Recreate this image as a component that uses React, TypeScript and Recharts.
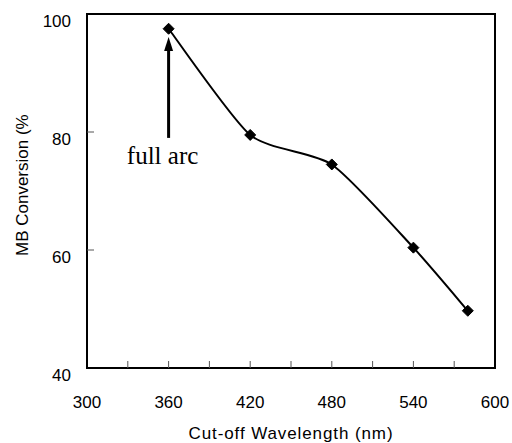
import React from 'react';
import { LineChart, Line, XAxis, YAxis, ReferenceArea, ReferenceLine } from 'recharts';

const wavelengths = [360, 420, 480, 540, 580];
const conversion = [97.5, 79.5, 74.5, 60.4, 49.7];
const xTicks = [300, 330, 360, 390, 420, 450, 480, 510, 540, 570, 600];
const xLabeled = [300, 360, 420, 480, 540, 600];
const yTicks = [40, 60, 80, 100];
const annotation = { x: 360, yFrom: 79, yTo: 96.1, text: 'full arc' };

const data = wavelengths.map((w, i) => ({ w, v: conversion[i] }));

const SANS = '"Liberation Sans", Arial, sans-serif';

// Excel-like smoothed curve (low-tension Catmull-Rom as cubic Bezier)
const K = 0.11;
const smoothCurve: any = (context: any) => {
  let pts: number[][] = [];
  return {
    areaStart() {},
    areaEnd() {},
    lineStart() {
      pts = [];
    },
    point(x: number, y: number) {
      pts.push([+x, +y]);
    },
    lineEnd() {
      if (!pts.length) return;
      context.moveTo(pts[0][0], pts[0][1]);
      for (let i = 0; i < pts.length - 1; i++) {
        const p0 = pts[i - 1] || pts[i];
        const p1 = pts[i];
        const p2 = pts[i + 1];
        const p3 = pts[i + 2] || p2;
        const c1x = p1[0] + (p2[0] - p0[0]) * K;
        const c1y = p1[1] + (p2[1] - p0[1]) * K;
        const c2x = p2[0] - (p3[0] - p1[0]) * K;
        const c2y = p2[1] - (p3[1] - p1[1]) * K;
        context.bezierCurveTo(c1x, c1y, c2x, c2y, p2[0], p2[1]);
      }
    },
  };
};

const XTick = (props: any) => {
  const { x, y, payload } = props;
  const v = payload.value;
  const showLine = v !== 300 && v !== 600;
  return (
    <g>
      {showLine && <line x1={x} x2={x} y1={y} y2={y - 7} stroke="#555" strokeWidth={1} />}
      {xLabeled.includes(v) && (
        <text x={x} y={y + 40} textAnchor="middle" fontSize={17} fontFamily={SANS} fill="#000">
          {v}
        </text>
      )}
    </g>
  );
};

const YTick = (props: any) => {
  const { x, y, payload } = props;
  const v = payload.value;
  const showLine = v !== 40 && v !== 100;
  return (
    <g>
      {showLine && <line x1={x} x2={x + 7} y1={y} y2={y} stroke="#555" strokeWidth={1} />}
      <text x={x - 16} y={y + 13} textAnchor="end" fontSize={17} fontFamily={SANS} fill="#000">
        {v}
      </text>
    </g>
  );
};

const Diamond = (props: any) => {
  const { cx, cy } = props;
  if (cx == null || cy == null) return null;
  const r = 5.5;
  return (
    <polygon
      points={`${cx},${cy - r} ${cx + r},${cy} ${cx},${cy + r} ${cx - r},${cy}`}
      fill="#000"
      stroke="#000"
    />
  );
};

const ArrowShape = (props: any) => {
  const { x1, y1, x2, y2 } = props;
  const top = Math.min(y1, y2);
  const bottom = Math.max(y1, y2);
  const x = x1;
  const headLen = 14;
  const headHalf = 4.5;
  return (
    <g>
      <line x1={x} x2={x} y1={bottom} y2={top + headLen - 1} stroke="#000" strokeWidth={3} />
      <polygon
        points={`${x},${top} ${x + headHalf},${top + headLen} ${x - headHalf},${top + headLen}`}
        fill="#000"
      />
      <text
        x={x - 6}
        y={bottom + 26}
        textAnchor="middle"
        fontSize={25}
        fontFamily='"Liberation Serif", "Times New Roman", serif'
        fill="#000"
      >
        {annotation.text}
      </text>
    </g>
  );
};

export default function App() {
  return (
    <div style={{ position: 'absolute', left: 0, top: 0, width: 512, height: 443, background: '#fff' }}>
      <LineChart width={512} height={443} data={data} margin={{ top: 14, right: 17, left: 0, bottom: 0 }}>
        <XAxis
          dataKey="w"
          type="number"
          domain={[300, 600]}
          ticks={xTicks}
          interval={0}
          height={75}
          axisLine={false}
          tickLine={false}
          tickSize={0}
          tickMargin={0}
          tick={<XTick />}
          label={{
            value: 'Cut-off Wavelength (nm)',
            position: 'insideBottom',
            offset: 4,
            style: { fontSize: 17, fontFamily: SANS, fill: '#000', letterSpacing: 0.9 },
          }}
        />
        <YAxis
          type="number"
          domain={[40, 100]}
          ticks={yTicks}
          interval={0}
          width={87}
          axisLine={false}
          tickLine={false}
          tickSize={0}
          tickMargin={0}
          tick={<YTick />}
          label={{
            content: () => (
              <text
                x={28}
                y={256}
                transform="rotate(-90 28 256)"
                textAnchor="start"
                fontSize={17}
                fontFamily={SANS}
                fill="#000"
              >
                MB Conversion (%
              </text>
            ),
          }}
        />
        <ReferenceArea x1={300} x2={600} y1={40} y2={100} fill="none" stroke="#000" strokeWidth={2} fillOpacity={0} />
        <ReferenceLine
          segment={[
            { x: annotation.x, y: annotation.yFrom },
            { x: annotation.x, y: annotation.yTo },
          ]}
          shape={<ArrowShape />}
        />
        <Line
          dataKey="v"
          type={smoothCurve}
          stroke="#000"
          strokeWidth={2}
          dot={<Diamond />}
          activeDot={false}
          isAnimationActive={false}
        />
      </LineChart>
    </div>
  );
}
